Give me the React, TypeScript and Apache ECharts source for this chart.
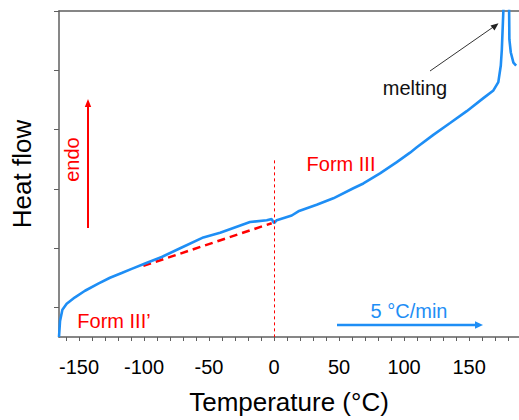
import React, { useEffect, useRef } from "react";
import * as echarts from "echarts";

// Temperature (°C) and heat flow (arbitrary units)
const temperature = [-165.4, -164.6, -162.8, -159.5, -153.1, -145.4, -135.2, -126.2, -117.2, -109.5, -99.2, -86.4, -71.0, -54.4, -41.5, -31.3, -18.5, -5.6, -1.8, 0, 2.1, 13.6, 18.7, 32.8, 45.6, 61, 68.7, 81.5, 94.4, 104.6, 109.8, 122.5, 135.4, 148.2, 161, 168.7, 172.5, 174.4, 175.2, 175.9, 176.4, 178.5, 180.8, 181, 182.1, 184.1, 186.2];
const heatFlow = [0, 0.27, 0.46, 0.56, 0.67, 0.78, 0.9, 1.0, 1.08, 1.15, 1.24, 1.35, 1.51, 1.68, 1.76, 1.84, 1.94, 1.97, 1.99, 1.92, 1.97, 2.05, 2.12, 2.23, 2.34, 2.51, 2.59, 2.76, 2.95, 3.11, 3.2, 3.41, 3.61, 3.81, 4.03, 4.16, 4.3, 4.58, 4.85, 5.24, 5.52, 6.5, 5.52, 5.02, 4.8, 4.63, 4.58];

// extrapolated baseline (red dashed)
const baselineT = [-100.5, -1.8];
const baselineHF = [1.2, 1.92];

// form transition marker
const transitionT = 0;
const transitionTopHF = 2.98;

const xTickValues = [-160, -150, -140, -130, -120, -110, -100, -90, -80, -70, -60, -50, -40, -30, -20, -10, 0, 10, 20, 30, 40, 50, 60, 70, 80, 90, 100, 110, 120, 130, 140, 150, 160, 170, 180];
const xLabelValues = [-150, -100, -50, 0, 50, 100, 150];
const yTickValues = [0.5, 1.5, 2.5, 3.5, 4.5, 5.5];

const FONT = 'Arial, "Liberation Sans", sans-serif';
const BLUE = "#1e8ef5";
const RED = "#ff0000";
const AXIS = "#5f5f5f";

export default function App() {
  const ref = useRef<HTMLDivElement>(null);
  useEffect(() => {
    if (!ref.current) return;
    const chart = echarts.init(ref.current, undefined, { renderer: "svg" });
    const curve = temperature.map((t, i) => [t, heatFlow[i]]);
    const baseline = baselineT.map((t, i) => [t, baselineHF[i]]);
    chart.setOption({
      animation: false,
      backgroundColor: "#ffffff",
      grid: { left: 59, right: 0, top: 11, bottom: 77 },
      xAxis: [
        {
          type: "value",
          min: -165.4,
          max: 188.4,
          name: "Temperature (°C)",
          nameLocation: "middle",
          nameGap: 52,
          nameTextStyle: { fontFamily: FONT, fontSize: 26, color: "#000" },
          axisLine: { show: true, lineStyle: { color: AXIS, width: 1.5 } },
          axisTick: { show: true, length: 4, customValues: xTickValues, lineStyle: { color: AXIS, width: 1 } },
          axisLabel: { customValues: xLabelValues, fontFamily: FONT, fontSize: 20, color: "#000", margin: 20 },
          splitLine: { show: false },
        },
        {
          type: "value",
          position: "top",
          min: -165.4,
          max: 188.4,
          axisLine: { show: true, onZero: false, lineStyle: { color: AXIS, width: 1.5 } },
          axisTick: { show: false },
          axisLabel: { show: false },
          splitLine: { show: false },
        },
      ],
      yAxis: {
        type: "value",
        min: 0,
        max: 5.5,
        name: "Heat flow",
        nameLocation: "middle",
        nameGap: 24,
        nameTextStyle: { fontFamily: FONT, fontSize: 26, color: "#000" },
        axisLine: { show: true, onZero: false, lineStyle: { color: AXIS, width: 1.5 } },
        axisTick: { show: true, length: 5, customValues: yTickValues, lineStyle: { color: AXIS, width: 1 } },
        axisLabel: { show: false },
        splitLine: { show: false },
      },
      series: [
        {
          type: "line",
          data: baseline,
          showSymbol: false,
          symbol: "none",
          lineStyle: { color: RED, width: 2.5, type: [8, 5] },
          z: 3,
        },
        {
          type: "line",
          data: curve,
          showSymbol: false,
          symbol: "none",
          clip: true,
          lineStyle: { color: BLUE, width: 2.6 },
          z: 4,
          markLine: {
            silent: true,
            symbol: "none",
            label: { show: false },
            lineStyle: { color: RED, width: 1, type: [3, 3] },
            data: [[{ coord: [transitionT, transitionTopHF] }, { coord: [transitionT, 0] }]],
          },
        },
      ],
      graphic: [
        // endo arrow
        { type: "line", shape: { x1: 88, y1: 228, x2: 88, y2: 104 }, style: { stroke: RED, lineWidth: 2 } },
        { type: "polygon", shape: { points: [[88, 99], [84.8, 107], [91.2, 107]] }, style: { fill: RED } },
        {
          type: "text",
          x: 71.5,
          y: 159.5,
          rotation: Math.PI / 2,
          style: { text: "endo", fontFamily: FONT, fontSize: 20, fill: RED, align: "center", verticalAlign: "middle" },
        },
        { type: "text", x: 114, y: 321, style: { text: "Form III’", fontFamily: FONT, fontSize: 20, fill: RED, align: "center", verticalAlign: "middle" } },
        { type: "text", x: 341, y: 164, style: { text: "Form III", fontFamily: FONT, fontSize: 20, fill: RED, align: "center", verticalAlign: "middle" } },
        { type: "text", x: 415, y: 88, style: { text: "melting", fontFamily: FONT, fontSize: 20, fill: "#111", align: "center", verticalAlign: "middle" } },
        // melting arrow
        { type: "line", shape: { x1: 430, y1: 71, x2: 494, y2: 26.5 }, style: { stroke: "#333", lineWidth: 1 } },
        { type: "polygon", shape: { points: [[498.5, 23.3], [490.5, 25.5], [494.5, 30.5]] }, style: { fill: "#222" } },
        // heating rate
        { type: "text", x: 409, y: 310.5, style: { text: "5 °C/min", fontFamily: FONT, fontSize: 20, fill: BLUE, align: "center", verticalAlign: "middle" } },
        { type: "line", shape: { x1: 337, y1: 325, x2: 477, y2: 325 }, style: { stroke: BLUE, lineWidth: 2.5 } },
        { type: "polygon", shape: { points: [[483, 325], [475, 321.3], [475, 328.7]] }, style: { fill: BLUE } },
      ],
    });
    return () => chart.dispose();
  }, []);
  return (
    <div
      ref={ref}
      style={{ position: "absolute", left: 0, top: 0, width: 519, height: 420 }}
    />
  );
}
